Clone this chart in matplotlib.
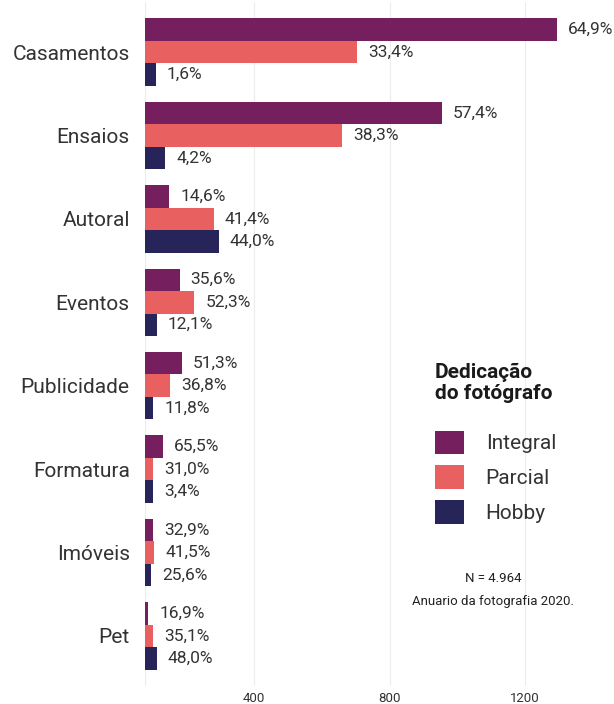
import numpy as np
import matplotlib.pyplot as plt
from matplotlib.patches import Patch

plt.rcParams['font.family'] = ['Roboto', 'DejaVu Sans']

# data (bar lengths are respondent counts)
categories = ['Casamentos', 'Ensaios', 'Autoral', 'Eventos',
              'Publicidade', 'Formatura', 'Imóveis', 'Pet']
series = ['Integral', 'Parcial', 'Hobby']
integral = [1216, 875, 71, 102, 109, 53, 24, 9]
parcial = [626, 582, 203, 145, 74, 24, 28, 24]
hobby = [32, 59, 217, 35, 24, 24, 17, 34]
pct_integral = ['64,9%', '57,4%', '14,6%', '35,6%', '51,3%', '65,5%', '32,9%', '16,9%']
pct_parcial = ['33,4%', '38,3%', '41,4%', '52,3%', '36,8%', '31,0%', '41,5%', '35,1%']
pct_hobby = ['1,6%', '4,2%', '44,0%', '12,1%', '11,8%', '3,4%', '25,6%', '48,0%']
x_ticks = [400, 800, 1200]
x_base = 78  # visible start of the axis, bars are drawn from here

colors = ['#751f5e', '#e8605f', '#27245a']

fig = plt.figure(figsize=(6.14, 7.04), dpi=100)
W, H = 614, 704
ax = fig.add_axes([145 / W, (H - 686) / H, (W - 145) / W, 684 / H])

y = np.arange(len(categories))
h = 0.27
values = [integral, parcial, hobby]
labels = [pct_integral, pct_parcial, pct_hobby]
for k in range(3):
    pos = y + (k - 1) * h
    ax.barh(pos, values[k], left=x_base, height=h, color=colors[k], zorder=2)
    for yy, v, lab in zip(pos, values[k], labels[k]):
        ax.annotate(lab, (x_base + v, yy), xytext=(8, 0), textcoords='offset points',
                    va='center', ha='left', fontsize=12.5, color='#333333')

ax.set_xlim(x_base, 1462)
ax.set_ylim(len(categories) - 0.4, -0.6)
ax.set_xticks([x_base] + x_ticks)
ax.set_xticklabels([''] + [str(t) for t in x_ticks], fontsize=9.5, color='#333333')
ax.set_yticks(y)
ax.set_yticklabels(categories, fontsize=15, color='#333333')
ax.tick_params(length=0)
ax.tick_params(axis='x', pad=4)
ax.tick_params(axis='y', pad=11)
ax.grid(axis='x', color='#ececec', linewidth=0.8, zorder=0)
for s in ax.spines.values():
    s.set_visible(False)

# legend
fig.text(435 / W, 1 - 363 / H, 'Dedicação\ndo fotógrafo', fontsize=15, fontweight='bold',
         va='top', ha='left', color='#1a1a1a', linespacing=1.1)
handles = [Patch(facecolor=c, edgecolor='none') for c in colors]
fig.legend(handles, series, loc='upper left', bbox_to_anchor=(420 / W, 1 - 416 / H),
           frameon=False, fontsize=15, handlelength=1.4, handleheight=1.35,
           labelspacing=0.55, handletextpad=1.05, borderpad=0.2, labelcolor='#333333')

fig.text(493 / W, 1 - 578 / H, 'N = 4.964', fontsize=9.5, ha='center', va='center', color='#222222')
fig.text(493 / W, 1 - 601 / H, 'Anuario da fotografia 2020.', fontsize=9.5, ha='center',
         va='center', color='#222222')

fig.savefig('out.png', dpi=100)
